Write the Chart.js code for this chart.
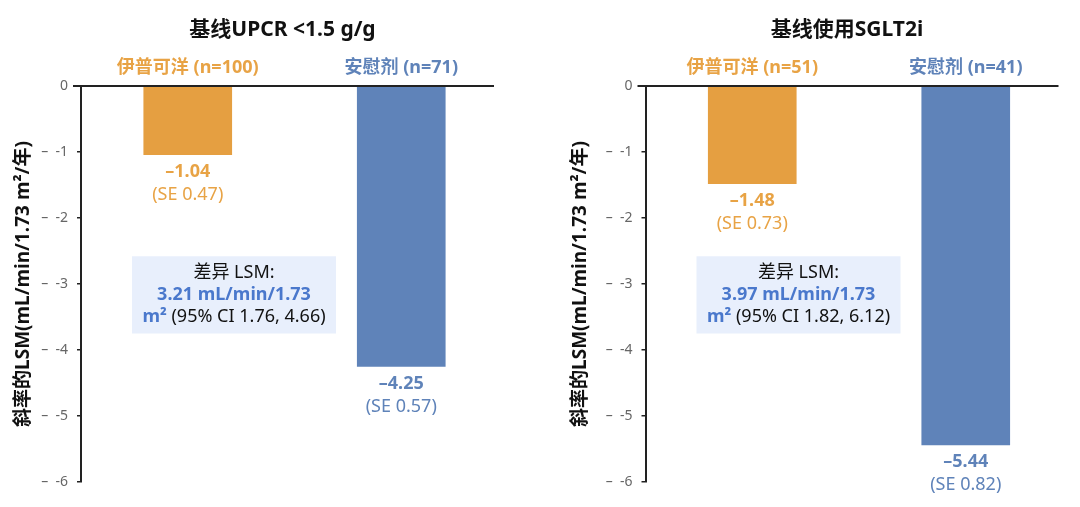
<!DOCTYPE html>
<html>
<head>
<meta charset="utf-8">
<script src="https://cdn.jsdelivr.net/npm/chart.js@4"></script>
<style>
  html, body { margin: 0; padding: 0; background: #fff; overflow: hidden; }
  .wrap { display: flex; width: 1080px; height: 507px; }
  .panel { position: relative; width: 540px; height: 507px; }
</style>
</head>
<body>
<div class="wrap">
  <div class="panel"><canvas id="chartLeft"></canvas></div>
  <div class="panel"><canvas id="chartRight"></canvas></div>
</div>
<script>
// ---- data ----
const groups = ['伊普可洋', '安慰剂'];
const yTicks = [0, -1, -2, -3, -4, -5, -6];

const titleLeft = '基线UPCR <1.5 g/g';
const nLeft = [100, 71];
const lsmLeft = [-1.04, -4.25];
const seLeft = [0.47, 0.57];
const diffLeft = [3.21, 1.76, 4.66]; // 差异, CI 下限, CI 上限

const titleRight = '基线使用SGLT2i';
const nRight = [51, 41];
const lsmRight = [-1.48, -5.44];
const seRight = [0.73, 0.82];
const diffRight = [3.97, 1.82, 6.12];

const yTitle = '斜率的LSM(mL/min/1.73 m²/年)';

// ---- styles ----
const FONT = '"Noto Sans", "Noto Sans CJK SC", sans-serif';
const barColors = ['#E59F41', '#5F83B9'];
const textColors = ['#E8A345', '#5F83B9'];
const diffBlue = '#4A78CC';
const boxFill = '#E8EFFC';

const fmt = v => '–' + Math.abs(v).toFixed(2);

// ตัวช่วยวาดข้อความ/กล่อง บนกราฟ
const annotPlugin = {
  id: 'annot',
  afterDatasetsDraw(chart, args, opts) {
    const { ctx, chartArea: ca, scales } = chart;
    const y = scales.y;
    ctx.save();

    // เส้นศูนย์
    const y0 = y.getPixelForValue(0);
    ctx.strokeStyle = '#222';
    ctx.lineWidth = 2;
    ctx.beginPath();
    ctx.moveTo(ca.left - 8, y0);
    ctx.lineTo(ca.right - 14, y0);
    ctx.stroke();

    // ชื่อกราฟ
    ctx.fillStyle = '#111';
    ctx.textAlign = 'center';
    ctx.textBaseline = 'middle';
    ctx.font = 'bold 21px ' + FONT;
    ctx.fillText(opts.title, (ca.left + ca.right) / 2 - 12, 30);

    // ค่าใต้แท่ง
    const meta = chart.getDatasetMeta(0);
    meta.data.forEach((el, i) => {
      ctx.fillStyle = textColors[i];
      ctx.font = 'bold 18px ' + FONT;
      ctx.fillText(fmt(opts.lsm[i]), el.x, el.y + 17);
      ctx.font = '18px ' + FONT;
      ctx.fillText('(SE ' + opts.se[i].toFixed(2) + ')', el.x, el.y + 40);
    });

    // กล่องผลต่าง
    const bx = ca.left + 51, bw = 204;
    const by = y.getPixelForValue(opts.boxTop);
    const bh = y.getPixelForValue(opts.boxBottom) - by;
    ctx.fillStyle = boxFill;
    ctx.fillRect(bx, by, bw, bh);
    const cx = bx + bw / 2;
    const fs = 18;
    ctx.fillStyle = '#111';
    ctx.font = fs + 'px ' + FONT;
    ctx.fillText('差异 LSM:', cx, by + 17);
    ctx.fillStyle = diffBlue;
    ctx.font = 'bold ' + fs + 'px ' + FONT;
    ctx.fillText(opts.diff[0].toFixed(2) + ' mL/min/1.73', cx, by + 39);

    const p1 = 'm²';
    const p2 = ' (95% CI ' + opts.diff[1].toFixed(2) + ', ' + opts.diff[2].toFixed(2) + ')';
    ctx.font = 'bold ' + fs + 'px ' + FONT;
    const w1 = ctx.measureText(p1).width;
    ctx.font = fs + 'px ' + FONT;
    const w2 = ctx.measureText(p2).width;
    const sx = cx - (w1 + w2) / 2;
    ctx.textAlign = 'left';
    ctx.fillStyle = diffBlue;
    ctx.font = 'bold ' + fs + 'px ' + FONT;
    ctx.fillText(p1, sx, by + 61);
    ctx.fillStyle = '#111';
    ctx.font = fs + 'px ' + FONT;
    ctx.fillText(p2, sx + w1, by + 61);

    ctx.restore();
  }
};

function makeChart(id, cfg) {
  return new Chart(document.getElementById(id), {
    type: 'bar',
    data: {
      labels: groups.map((g, i) => g + ' (n=' + cfg.n[i] + ')'),
      datasets: [{
        data: cfg.lsm,
        backgroundColor: barColors,
        barThickness: 88
      }]
    },
    options: {
      responsive: true,
      maintainAspectRatio: false,
      animation: false,
      layout: { padding: { top: 56, bottom: 25, left: cfg.padLeft, right: cfg.padRight } },
      scales: {
        x: {
          position: 'top',
          offset: true,
          grid: { display: false, drawTicks: false },
          border: { display: false },
          ticks: {
            color: c => textColors[c.index],
            font: { family: FONT, size: 18, weight: 'bold' },
            padding: 7,
            maxRotation: 0
          },
          afterFit: s => { s.height = 30; }
        },
        y: {
          min: -6,
          max: 0,
          afterBuildTicks: s => { s.ticks = yTicks.map(v => ({ value: v })); },
          grid: { drawOnChartArea: false, drawTicks: true, tickLength: 4, color: '#222', lineWidth: 1.5 },
          border: { display: true, color: '#222', width: 2 },
          ticks: {
            color: '#666',
            font: { family: FONT, size: 14 },
            padding: 9,
            callback: v => v === 0 ? '0' : '–  -' + Math.abs(v)
          },
          title: {
            display: true,
            text: yTitle,
            color: '#111',
            font: { family: FONT, size: 19, weight: 'bold' },
            padding: { top: 12, bottom: 0 }
          },
          afterFit: s => { s.width = cfg.yWidth; }
        }
      },
      plugins: {
        legend: { display: false },
        tooltip: { enabled: false },
        annot: {
          title: cfg.title,
          lsm: cfg.lsm,
          se: cfg.se,
          diff: cfg.diff,
          boxTop: -2.58,
          boxBottom: -3.75
        }
      }
    },
    plugins: [annotPlugin]
  });
}

makeChart('chartLeft', {
  title: titleLeft, n: nLeft, lsm: lsmLeft, se: seLeft, diff: diffLeft,
  padLeft: 0, padRight: 32, yWidth: 81
});
makeChart('chartRight', {
  title: titleRight, n: nRight, lsm: lsmRight, se: seRight, diff: diffRight,
  padLeft: 17.5, padRight: 7.5, yWidth: 88
});
</script>
</body>
</html>
